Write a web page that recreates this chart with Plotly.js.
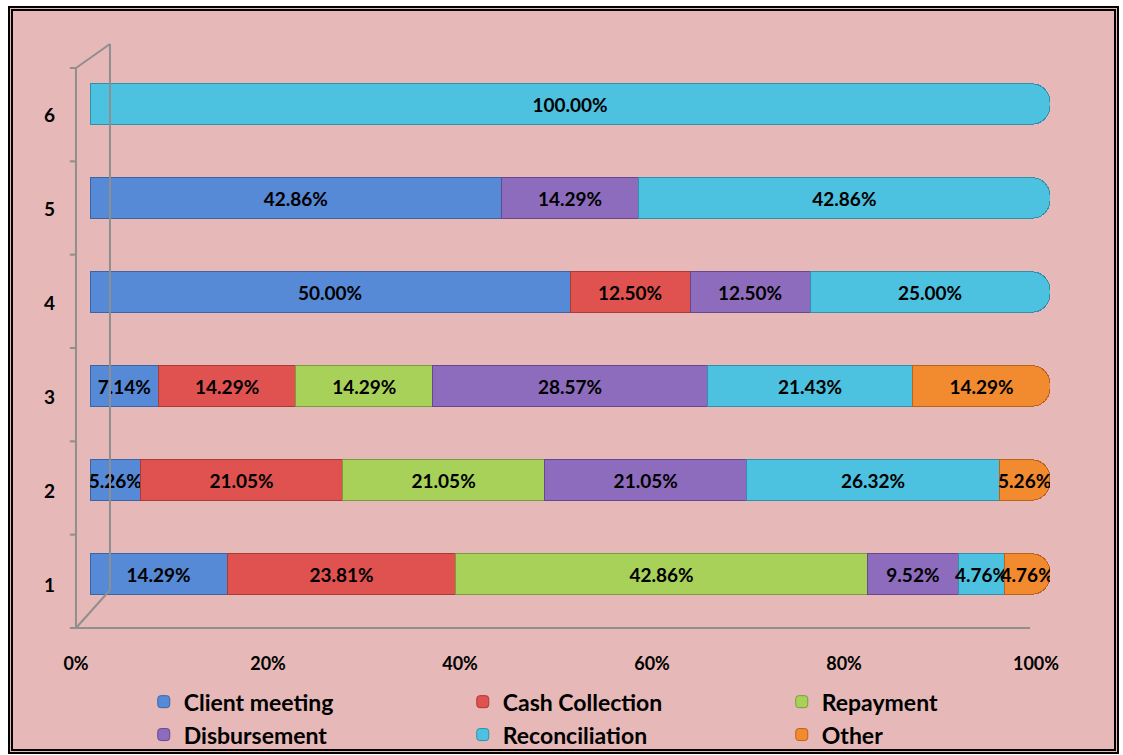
<!DOCTYPE html>
<html>
<head>
<meta charset="utf-8">
<script src="https://cdn.plot.ly/plotly-3.0.1.min.js"></script>
<style>
  html, body { margin: 0; padding: 0; background: #ffffff; width: 1123px; height: 755px; overflow: hidden; }
  #frame { position: absolute; left: 8px; top: 6px; width: 1101px; height: 738px; border: 5px double #000; background: #e6b8b7; overflow: hidden; }
  #chart { width: 1101px; height: 770px; }
</style>
</head>
<body>
<div id="frame"><div id="chart"></div></div>
<script>
const categories = ['1', '2', '3', '4', '5', '6'];
const seriesNames = ['Client meeting', 'Cash Collection', 'Repayment', 'Disbursement', 'Reconciliation', 'Other'];
const clientMeeting  = [14.29, 5.26, 7.14, 50.00, 42.86, 0];
const cashCollection = [23.81, 21.05, 14.29, 12.50, 0, 0];
const repayment      = [42.86, 21.05, 14.29, 0, 0, 0];
const disbursement   = [9.52, 21.05, 28.57, 12.50, 14.29, 0];
const reconciliation = [4.76, 26.32, 21.43, 25.00, 42.86, 100.00];
const other          = [4.76, 5.26, 14.29, 0, 0, 0];
const xTicks = [0, 20, 40, 60, 80, 100];

const seriesValues = [clientMeeting, cashCollection, repayment, disbursement, reconciliation, other];
const colors = ['#5689d6', '#e0524f', '#a8d15a', '#8e6cbd', '#4dc2e0', '#f28a30'];
const lineColors = ['#3a66a8', '#a83a38', '#7a9c3c', '#65498f', '#2f90aa', '#b8621c'];

const FONT = 'Lato, "Open Sans", sans-serif';

const traces = seriesValues.map((vals, i) => ({
  type: 'bar',
  orientation: 'h',
  name: seriesNames[i],
  y: categories,
  x: vals,
  text: vals.map(v => v > 0 ? v.toFixed(2) + '%' : ''),
  textposition: 'inside',
  insidetextanchor: 'middle',
  constraintext: 'none',
  textfont: { family: FONT, size: 19, color: '#000', weight: 'bold' },
  marker: { color: colors[i], line: { color: lineColors[i], width: 1 }, cornerradius: 18 },
  hoverinfo: 'name+x'
}));

// decorative 3D wall lines (paper coords)
const gray = '#8f8f8f';
const shapes = [
  { type: 'line', xref: 'paper', yref: 'paper', x0: -0.0146, x1: -0.0146, y0: 0.9805, y1: -0.0124, line: { color: gray, width: 2 } },
  { type: 'line', xref: 'paper', yref: 'paper', x0: 0.0208, x1: 0.0208, y0: 1.023, y1: 0.055, line: { color: gray, width: 2 } },
  { type: 'line', xref: 'paper', yref: 'paper', x0: -0.0146, x1: 0.0208, y0: 0.9805, y1: 1.023, line: { color: gray, width: 2 } },
  { type: 'line', xref: 'paper', yref: 'paper', x0: -0.0146, x1: 0.0208, y0: -0.0124, y1: 0.055, line: { color: gray, width: 2 } },
  { type: 'line', xref: 'paper', yref: 'paper', x0: -0.0146, x1: 0.9792, y0: -0.0124, y1: -0.0124, line: { color: gray, width: 2 } }
];
for (let k = 0; k <= 6; k++) {
  const yp = 0.9805 - k * (0.9805 + 0.0124) / 6;
  shapes.push({ type: 'line', xref: 'paper', yref: 'paper', x0: -0.021, x1: -0.0146, y0: yp, y1: yp, line: { color: gray, width: 2 } });
}

const layout = {
  width: 1101, height: 770,
  paper_bgcolor: '#e6b8b7',
  plot_bgcolor: 'rgba(0,0,0,0)',
  margin: { l: 77, r: 64, t: 46, b: 160 },
  barmode: 'stack',
  bargap: 0.57,
  showlegend: true,
  uniformtext: { mode: 'show', minsize: 19 },
  font: { family: FONT, color: '#000' },
  xaxis: {
    range: [0, 100],
    tickvals: xTicks,
    ticktext: xTicks.map(v => v + '%'),
    showgrid: false, zeroline: false, showline: false, ticks: '',
    tickfont: { family: FONT, size: 18, color: '#000', weight: 'bold' },
    ticklabelshift: -14,
    ticklabelstandoff: 30,
    fixedrange: true
  },
  yaxis: {
    type: 'category',
    categoryorder: 'array', categoryarray: categories,
    showgrid: false, zeroline: false, showline: false, ticks: '',
    tickfont: { family: FONT, size: 19, color: '#000', weight: 'bold' },
    ticklabelshift: 11,
    ticklabelstandoff: 34,
    fixedrange: true
  },
  legend: {
    orientation: 'h',
    traceorder: 'normal',
    x: 0.056, xanchor: 'left',
    y: -0.105, yanchor: 'top',
    entrywidth: 274, entrywidthmode: 'pixels',
    font: { family: FONT, size: 23, color: '#000', weight: 'bold' },
    bgcolor: 'rgba(0,0,0,0)',
    itemwidth: 30
  },
  shapes: shapes
};

Plotly.newPlot('chart', traces, layout, { displayModeBar: false, staticPlot: true });
</script>
</body>
</html>
